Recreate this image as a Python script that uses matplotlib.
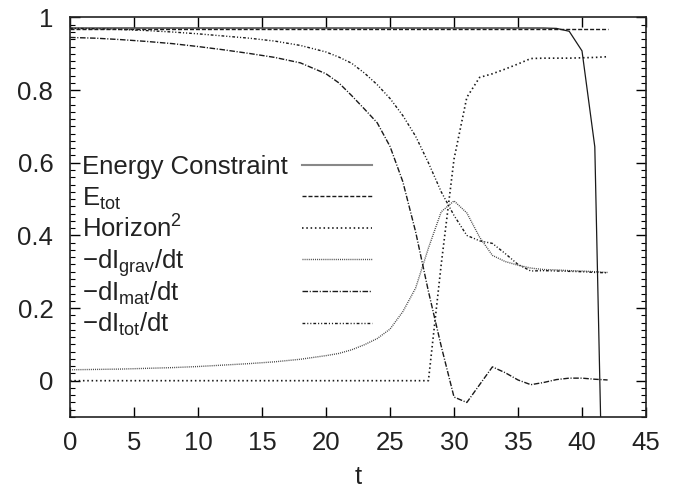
import matplotlib

matplotlib.use("Agg")
import matplotlib.pyplot as plt
from matplotlib.ticker import MultipleLocator

plt.rcParams["font.family"] = ["Liberation Sans", "DejaVu Sans"]
plt.rcParams["mathtext.default"] = "regular"
plt.rcParams["lines.scale_dashes"] = False

# time samples shared by all series
t = [0, 2, 4, 6, 8, 10, 12, 14, 16, 18, 20,
     21, 22, 23, 24, 25, 26, 27, 28, 29, 30, 31,
     32, 33, 34, 35, 36, 37, 38, 39, 40, 41, 42]

energy_constraint = [0.971] * 28 + [0.970, 0.962, 0.908, 0.644, -1.0]
e_tot = [0.969] * 33
horizon2 = [0.0] * 19 + [0.32, 0.61, 0.78, 0.835, 0.845, 0.858, 0.872,
                         0.887, 0.888, 0.888, 0.888, 0.889, 0.890, 0.892]
dI_grav = [0.030, 0.031, 0.032, 0.034, 0.036, 0.039, 0.043, 0.047, 0.052,
           0.059, 0.069, 0.075, 0.085, 0.099, 0.116, 0.142, 0.190, 0.255,
           0.365, 0.465, 0.495, 0.462, 0.395, 0.345, 0.328, 0.318, 0.310,
           0.306, 0.305, 0.303, 0.302, 0.300, 0.298]
dI_mat = [0.945, 0.943, 0.939, 0.934, 0.928, 0.920, 0.911, 0.901, 0.890,
          0.875, 0.845, 0.820, 0.785, 0.748, 0.710, 0.645, 0.548, 0.410,
          0.246, 0.095, -0.045, -0.060, -0.011, 0.038, 0.022, 0.002, -0.011,
          -0.005, 0.003, 0.007, 0.007, 0.004, 0.002]
dI_tot = [0.970, 0.969, 0.967, 0.964, 0.960, 0.955, 0.949, 0.943, 0.935,
          0.923, 0.905, 0.891, 0.874, 0.847, 0.815, 0.777, 0.730, 0.673,
          0.600, 0.520, 0.455, 0.400, 0.385, 0.378, 0.350, 0.320, 0.302,
          0.303, 0.302, 0.301, 0.300, 0.298, 0.297]

labels = ["Energy Constraint", "E$_{tot}$", "Horizon$^2$",
          "\u2212dI$_{grav}$/dt", "\u2212dI$_{mat}$/dt", "\u2212dI$_{tot}$/dt"]
series = [energy_constraint, e_tot, horizon2, dI_grav, dI_mat, dI_tot]
styles = [
    dict(color="#1a1a1a", linestyle="-", linewidth=0.9),
    dict(color="#1a1a1a", linestyle=(0, (2.9, 1.4)), linewidth=1.0),
    dict(color="#1a1a1a", linestyle=(0, (1.1, 2.0)), linewidth=1.2),
    dict(color="#444444", linestyle=(0, (0.7, 0.8)), linewidth=1.0),
    dict(color="#1a1a1a", linestyle=(0, (4.0, 1.2, 0.8, 1.2)), linewidth=1.0),
    dict(color="#1a1a1a", linestyle=(0, (2.0, 1.4, 0.8, 1.4, 0.8, 1.4)), linewidth=1.0),
]

FS = 18.5

fig = plt.figure(figsize=(6.8, 4.91), dpi=100)
ax = fig.add_axes([0.103, 0.1507, 0.847, 0.8137])

for vals, st in zip(series, styles):
    ax.plot(t, vals, **st)

# gnuplot-style key: text on the left, sample on the right
row0, drow = 0.631, 0.0789
for i, (lab, st) in enumerate(zip(labels, styles)):
    y = row0 - i * drow
    ax.text(0.021, y - 0.024, lab, transform=ax.transAxes, fontsize=FS,
            color="#222222", ha="left", va="baseline")
    kst = dict(st)
    if i == 0:
        kst["color"] = "#888888"
        kst["linewidth"] = 1.5
    ax.plot([0.403, 0.524], [y, y], transform=ax.transAxes, **kst)

ax.set_xlim(0, 45)
ax.set_ylim(-0.1, 1.0)
ax.xaxis.set_major_locator(MultipleLocator(5))
ax.yaxis.set_major_locator(MultipleLocator(0.2))
ax.yaxis.set_minor_locator(MultipleLocator(0.02))
ax.tick_params(which="both", direction="in", top=True, right=True,
               labelsize=FS, labelcolor="#222222", pad=12)
ax.tick_params(which="major", length=7, width=1)
ax.tick_params(which="minor", length=3.5, width=0.8)
ax.tick_params(axis="x", which="major", pad=10)
ax.set_yticks([0, 0.2, 0.4, 0.6, 0.8, 1.0])
ax.set_yticklabels(["0", "0.2", "0.4", "0.6", "0.8", "1"])
ax.set_xlabel("t", fontsize=FS, color="#222222", labelpad=7)
for sp in ax.spines.values():
    sp.set_linewidth(1.2)
    sp.set_color("#222222")

fig.savefig("out.png")
plt.close(fig)
